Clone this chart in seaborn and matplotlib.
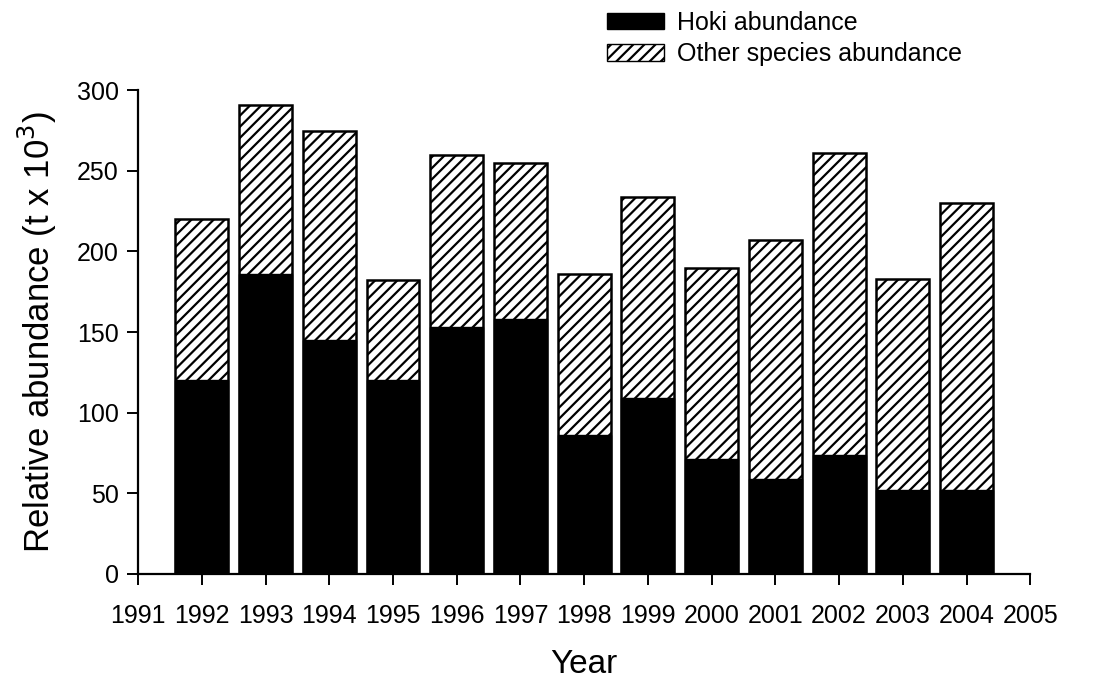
import matplotlib
matplotlib.use("Agg")
import matplotlib.pyplot as plt
from matplotlib.patches import Patch
import numpy as np
import pandas as pd
import seaborn as sns

# Survey years and abundance estimates (thousand tonnes)
years = [1992, 1993, 1994, 1995, 1996, 1997, 1998, 1999, 2000, 2001, 2002, 2003, 2004]
hoki = [120, 186, 145, 120, 153, 158, 86, 109, 71, 59, 74, 52, 52]
other = [100, 105, 130, 62, 107, 97, 100, 125, 119, 148, 187, 131, 178]
xticks = list(range(1991, 2006))
yticks = [0, 50, 100, 150, 200, 250, 300]

sns.set_style("ticks", {"axes.edgecolor": "black", "text.color": "black",
                        "xtick.color": "black", "ytick.color": "black",
                        "axes.labelcolor": "black"})
plt.rcParams["font.family"] = ["Liberation Sans", "DejaVu Sans"]
plt.rcParams["hatch.linewidth"] = 1.6
plt.rcParams["hatch.color"] = "black"

df = pd.DataFrame({"year": years, "hoki": hoki, "other": other})
df["total"] = df["hoki"] + df["other"]

fig = plt.figure(figsize=(10.96, 6.84), dpi=100)
ax = fig.add_axes([0.126, 0.161, 0.814, 0.707])

# Full stack (hatched other species), then hoki drawn over its lower part
sns.barplot(data=df, x="year", y="total", native_scale=True, width=0.83,
            color="white", edgecolor="black", linewidth=1.8, hatch="///",
            ax=ax, zorder=2)
n_total = len(ax.patches)
sns.barplot(data=df, x="year", y="hoki", native_scale=True, width=0.83,
            color="black", edgecolor="black", linewidth=1.0,
            ax=ax, zorder=3)
for p in ax.patches[:n_total]:
    p.set_facecolor("white")
for p in ax.patches[n_total:]:
    p.set_facecolor("black")

ax.set_xlim(1991, 2005)
ax.set_ylim(0, 300)
ax.set_xticks(xticks)
ax.set_xticklabels([str(t) for t in xticks])
ax.set_yticks(yticks)
sns.despine(ax=ax)
for s in ("left", "bottom"):
    ax.spines[s].set_linewidth(1.6)
ax.tick_params(axis="both", labelsize=18, length=8, width=1.4, direction="out")
ax.tick_params(axis="x", pad=14)
ax.tick_params(axis="y", pad=6)

ax.set_xlabel("Year", fontsize=24, labelpad=15)
ax.set_ylabel("Relative abundance (t x 10$^3$)", fontsize=25, labelpad=13)

handles = [Patch(facecolor="black", edgecolor="black", label="Hoki abundance"),
           Patch(facecolor="white", edgecolor="black", hatch="///",
                 label="Other species abundance")]
fig.legend(handles=handles, loc="upper left", bbox_to_anchor=(0.540, 1.006),
           frameon=False, fontsize=18, handlelength=2.3, handleheight=0.65,
           handletextpad=0.5, labelspacing=0.3, borderaxespad=0.2)

fig.savefig("out.png", dpi=100, facecolor="white")
